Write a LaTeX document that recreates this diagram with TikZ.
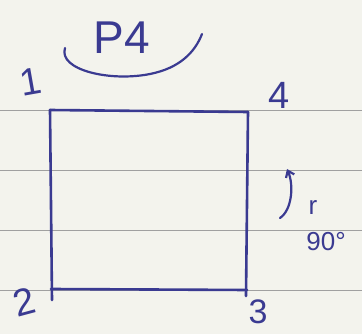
\documentclass[tikz,border=0pt]{standalone}
\usepackage{fontspec}
\setmainfont{Liberation Sans}
\usetikzlibrary{arrows.meta}
\definecolor{ink}{RGB}{58,58,145}
\definecolor{paper}{RGB}{243,243,237}
\definecolor{rule}{RGB}{160,160,160}
\begin{document}
\begin{tikzpicture}[x=1pt,y=-1pt,
  pen/.style={draw=ink,line width=2.6pt,line cap=round,line join=round},
  ruleline/.style={draw=rule,line width=0.8pt},
  lbl/.style={text=ink,inner sep=0pt,font=\fontsize{38}{38}\selectfont},
  small/.style={text=ink,inner sep=0pt,font=\fontsize{26}{26}\selectfont}]
\fill[paper] (0,0) rectangle (362,334);
\useasboundingbox (0,0) rectangle (362,334);
% ruled lines of the paper
\foreach \yy in {110,170,230,290} \draw[ruleline] (0,\yy) -- (362,\yy);
% square corners
\coordinate (c1) at (50,110);
\coordinate (c4) at (248,112);
\coordinate (c3) at (247,290);
\coordinate (c2) at (51,289);
\coordinate (c2b) at (52,300);
\coordinate (c3b) at (246,296);
\draw[pen] (c1) -- (c4);
\draw[pen] (c4) -- (c3b);
\draw[pen] (c2) -- (c3);
\draw[pen] (c1) -- (c2b);
% labels
\node[lbl,rotate=10] (n1) at (31,82) {1};
\node[lbl] (n4) at (279,95) {4};
\node[lbl,rotate=15] (n2) at (24,302) {2};
\node[lbl,font=\fontsize{34}{34}\selectfont] (n3) at (258,312) {3};
\node[lbl,font=\fontsize{46}{46}\selectfont] (p4) at (122,38) {P4};
% arc under P4
\coordinate (a1) at (65,48);
\coordinate (a2) at (202,34);
\draw[pen,line width=2.2pt] (a1) .. controls (58,70) and (110,82) .. (150,74) .. controls (180,68) and (195,52) .. (a2);
% rotation arrow
\coordinate (r1) at (280,218);
\coordinate (r2) at (287,169);
\draw[pen,line width=2.2pt,-{Straight Barb[length=6pt,width=9pt]}] (r1) .. controls (292,210) and (294,185) .. (r2);
\node[small] (rr) at (313,208) {r};
\node[small] (deg) at (326,242) {90°};
\end{tikzpicture}
\end{document}
